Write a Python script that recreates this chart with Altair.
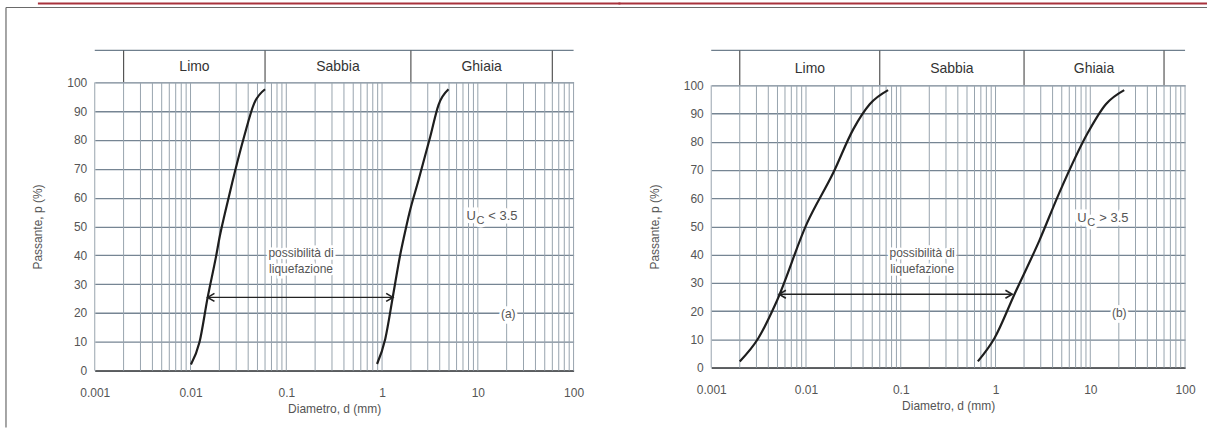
import altair as alt
import pandas as pd

# ---------------- data ----------------
# panel (a)  Uc < 3.5
a1_d = [0.0101, 0.0124, 0.0151, 0.0185, 0.0202, 0.0229, 0.0272, 0.0363, 0.0462, 0.060]
a1_p = [2.1, 9.8, 25.4, 39.7, 46.6, 54.7, 65.1, 81.2, 92.7, 97.6]
a2_d = [0.887, 1.08, 1.30, 1.55, 1.70, 1.93, 2.41, 3.19, 3.89, 4.94]
a2_p = [2.3, 11.0, 25.9, 40.3, 46.6, 54.7, 66.2, 81.2, 92.2, 97.6]
# panel (b)  Uc > 3.5
b1_d = [0.0020, 0.00315, 0.00483, 0.0102, 0.0194, 0.0315, 0.047, 0.0735]
b1_p = [2.2, 10.5, 23.0, 51.0, 69.0, 84.4, 93.3, 98.3]
b2_d = [0.651, 0.977, 1.585, 2.9, 4.72, 9.35, 14.6, 22.8]
b2_p = [2.2, 10.5, 26.0, 45.0, 62.0, 83.0, 93.3, 98.3]

arrow_a = [0.0151, 1.30, 25.4]
arrow_b = [0.0052, 1.50, 26.0]

zone_names = ["Limo", "Sabbia", "Ghiaia"]
zone_centers = [0.011, 0.346, 10.95]
zone_bounds = [0.002, 0.06, 2, 60]

x_labels = [0.001, 0.01, 0.1, 1, 10, 100]
y_labels = [0, 10, 20, 30, 40, 50, 60, 70, 80, 90, 100]
decades = [0.001, 0.01, 0.1, 1, 10]
mantissas = [1, 2, 3, 4, 5, 6, 7, 8, 9]
grid_x = [m * d for d in decades for m in mantissas] + [100]

FONT = "Liberation Sans"
GRID_V = "#98a4ae"
GRID_H = "#768593"
TXT = "#555555"

XSCALE = alt.Scale(type="log", domain=[0.001, 100], nice=False)
YSCALE = alt.Scale(domain=[0, 100], nice=False)

XAXIS = alt.Axis(values=x_labels, format="~g", grid=False, ticks=False,
                 domain=True, domainColor="#444444", domainWidth=1.5,
                 labelFont=FONT, labelFontSize=12, labelColor=TXT,
                 labelPadding=17, labelOverlap=False, labelFlush=False,
                 title="Diametro, d (mm)", titleFont=FONT, titleFontSize=12,
                 titleFontWeight="normal", titleColor=TXT, titlePadding=5)
YAXIS = alt.Axis(values=y_labels, grid=True, gridColor=GRID_H, gridWidth=1.3,
                 ticks=False, domain=False, labelOverlap=False,
                 labelFont=FONT, labelFontSize=12, labelColor=TXT,
                 labelPadding=8,
                 title="Passante, p (%)", titleFont=FONT, titleFontSize=12,
                 titleFontWeight="normal", titleColor=TXT, titlePadding=22)


def X(field):
    return alt.X(field, scale=XSCALE, axis=XAXIS)


def Y(field):
    return alt.Y(field, scale=YSCALE, axis=YAXIS)


def header(width, h, frame):
    top = alt.Chart(pd.DataFrame({"a": [0.001], "b": [100]})).mark_rule(
        color="#6f7f8d", strokeWidth=1.3
    ).encode(x=alt.X("a:Q", scale=XSCALE, axis=None), x2="b:Q", y=alt.value(0))
    divs = alt.Chart(pd.DataFrame({"d": zone_bounds})).mark_rule(
        color="#555555", strokeWidth=1.2
    ).encode(x=alt.X("d:Q", scale=XSCALE, axis=None), y=alt.value(0), y2=alt.value(h))
    labels = alt.Chart(pd.DataFrame({"d": zone_centers, "t": zone_names})).mark_text(
        font=FONT, fontSize=14, color="#333333", baseline="middle"
    ).encode(x=alt.X("d:Q", scale=XSCALE, axis=None), y=alt.value(h / 2 + 1), text="t:N")
    layers = [top, divs, labels]
    one = pd.DataFrame({"k": [0]})
    if frame == "left":
        layers += [
            alt.Chart(one).mark_rule(color="#a8323c", strokeWidth=2).encode(
                x=alt.value(-57), x2=alt.value(527), y=alt.value(-47)),
            alt.Chart(one).mark_rule(color="#6a6a6a", strokeWidth=1.2).encode(
                x=alt.value(-89), x2=alt.value(527), y=alt.value(-43)),
            alt.Chart(one).mark_rule(color="#6a6a6a", strokeWidth=1.2).encode(
                x=alt.value(-89), y=alt.value(-43), y2=alt.value(378)),
        ]
    else:
        layers += [
            alt.Chart(one).mark_rule(color="#a8323c", strokeWidth=2).encode(
                x=alt.value(-93), x2=alt.value(497), y=alt.value(-47)),
            alt.Chart(one).mark_rule(color="#6a6a6a", strokeWidth=1.2).encode(
                x=alt.value(-93), x2=alt.value(497), y=alt.value(-43)),
        ]
    return alt.layer(*layers).properties(width=width, height=h)


def panel(d1, p1, d2, p2, arrow, liq_x, liq_y, uc_x, uc_y, uc_sign, tag_x, tag_y, tag,
          width, height):
    grid = alt.Chart(pd.DataFrame({"d": grid_x})).mark_rule(
        color=GRID_V, strokeWidth=1
    ).encode(x=X("d:Q"), y=alt.value(0), y2=alt.value(height))
    ybase = alt.Chart(pd.DataFrame({"p": y_labels})).mark_rule(opacity=0).encode(y=Y("p:Q"))
    curves = pd.DataFrame({
        "d": d1 + d2,
        "p": p1 + p2,
        "c": ["1"] * len(d1) + ["2"] * len(d2),
    })
    lines = alt.Chart(curves).mark_line(color="#1e1e1e", strokeWidth=2.2, interpolate="monotone").encode(
        x=X("d:Q"), y=Y("p:Q"), detail="c:N", order="p:Q"
    )
    adf = pd.DataFrame({"x1": [arrow[0]], "x2": [arrow[1]], "p": [arrow[2]]})
    arr = alt.Chart(adf).mark_rule(color="#222222", strokeWidth=1.4).encode(
        x=X("x1:Q"), x2="x2:Q", y=Y("p:Q")
    )
    headL = alt.Chart(adf).mark_point(
        shape="M1.7,-1L0,0L1.7,1", filled=False, color="#222222", strokeWidth=1.6, size=64, opacity=1
    ).encode(x=X("x1:Q"), y=Y("p:Q"))
    headR = alt.Chart(adf).mark_point(
        shape="M-1.7,-1L0,0L-1.7,1", filled=False, color="#222222", strokeWidth=1.6, size=64, opacity=1
    ).encode(x=X("x2:Q"), y=Y("p:Q"))

    tdf = pd.DataFrame({
        "d": [liq_x, liq_x, tag_x],
        "p": [liq_y[0], liq_y[1], tag_y],
        "t": ["possibilità di", "liquefazione", tag],
    })
    halo = alt.Chart(tdf).mark_text(font=FONT, fontSize=12, color="white", stroke="white",
                                    strokeWidth=5, baseline="middle").encode(
        x=X("d:Q"), y=Y("p:Q"), text="t:N")
    txt = alt.Chart(tdf).mark_text(font=FONT, fontSize=12, color=TXT, baseline="middle").encode(
        x=X("d:Q"), y=Y("p:Q"), text="t:N")

    udf = pd.DataFrame({"d": [uc_x], "p": [uc_y]})
    uc_halo, uc_txt = [], []
    for s, dx, dy, fs in [("U", 0, 0, 13), ("C", 10, 5, 11), (uc_sign + " 3.5", 22, 0, 13)]:
        for halo_on in (True, False):
            kw = dict(font=FONT, fontSize=fs, align="left", baseline="middle", dx=dx, dy=dy, text=s)
            if halo_on:
                kw.update(color="white", stroke="white", strokeWidth=7)
            else:
                kw.update(color=TXT)
            c = alt.Chart(udf).mark_text(**kw).encode(x=X("d:Q"), y=Y("p:Q"))
            (uc_halo if halo_on else uc_txt).append(c)
    return alt.layer(grid, ybase, *uc_halo, halo, *uc_txt, txt, lines, arr, headL, headR).properties(
        width=width, height=height)


left = alt.vconcat(
    header(480, 32, "left"),
    panel(a1_d, a1_p, a2_d, a2_p, arrow_a, 0.1426, (40.7, 35.1), 7.6, 53.6, "<", 20.8, 19.8, "(a)",
          480, 289),
    spacing=0, bounds="flush",
)
right = alt.vconcat(
    header(475, 35, "right"),
    panel(b1_d, b1_p, b2_d, b2_p, arrow_b, 0.168, (40.5, 34.8), 7.3, 53.0, ">", 20.2, 19.5, "(b)",
          475, 283),
    spacing=0, bounds="flush",
)

chart = alt.hconcat(left, right, spacing=-4).properties(
    padding={"left": 5, "top": 2, "right": 0, "bottom": 0},
    background="white",
).configure_view(strokeWidth=0)

chart.save("out.html", embed_options={"renderer": "svg", "actions": False})
